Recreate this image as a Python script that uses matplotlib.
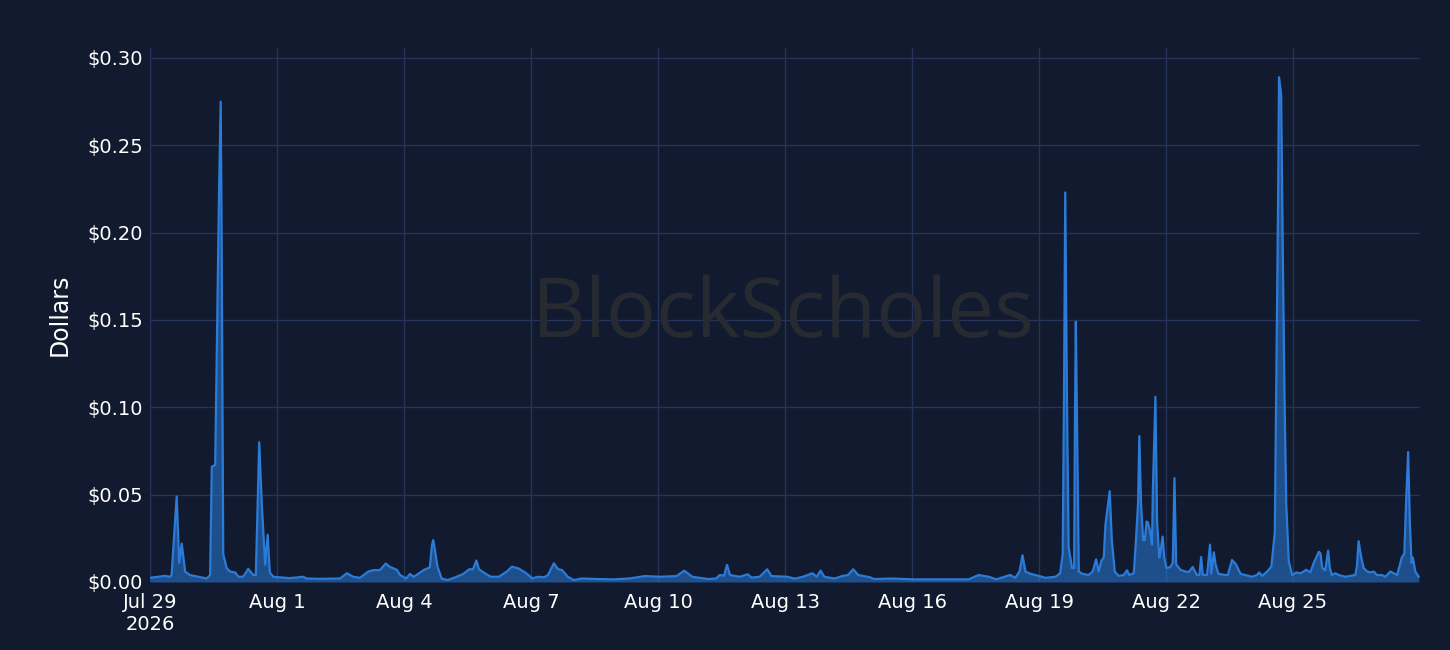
import datetime as dt
import matplotlib
matplotlib.use("Agg")
import matplotlib.pyplot as plt
import matplotlib.dates as mdates
from matplotlib.ticker import FuncFormatter, FixedLocator

# ---- data: time offsets in days from Jul 29 2026, price in dollars ----
days = [0.00, 0.20, 0.35, 0.47, 0.51, 0.63, 0.69, 0.75, 0.83, 0.94, 1.34, 1.42, 1.46, 1.54,
        1.59, 1.63, 1.67, 1.69, 1.73, 1.81, 1.89, 2.01, 2.09, 2.20, 2.32, 2.44, 2.50, 2.58,
        2.64, 2.72, 2.78, 2.83, 2.91, 3.30, 3.62, 3.70, 4.00, 4.49, 4.65, 4.80, 4.96, 5.16,
        5.28, 5.43, 5.57, 5.67, 5.83, 5.91, 6.05, 6.14, 6.23, 6.33, 6.47, 6.61, 6.66, 6.69,
        6.72, 6.79, 6.89, 7.03, 7.21, 7.40, 7.54, 7.63, 7.71, 7.77, 7.91, 8.05, 8.24, 8.43,
        8.55, 8.71, 8.89, 9.03, 9.17, 9.31, 9.40, 9.54, 9.64, 9.73, 9.87, 10.01, 10.20, 10.57,
        10.94, 11.32, 11.69, 12.06, 12.44, 12.62, 12.81, 13.18, 13.37, 13.46, 13.56, 13.63,
        13.70, 13.93, 14.12, 14.21, 14.40, 14.58, 14.68, 15.05, 15.24, 15.42, 15.65, 15.75,
        15.84, 15.93, 16.17, 16.35, 16.49, 16.61, 16.73, 17.01, 17.10, 17.52, 18.03, 18.78,
        19.34, 19.57, 19.81, 20.00, 20.05, 20.32, 20.44, 20.54, 20.61, 20.68, 20.80, 20.99,
        21.15, 21.39, 21.50, 21.56, 21.59, 21.62, 21.66, 21.70, 21.78, 21.83, 21.85, 21.87,
        21.91, 21.94, 22.02, 22.17, 22.27, 22.35, 22.41, 22.47, 22.53, 22.57, 22.67, 22.72,
        22.79, 22.88, 23.00, 23.08, 23.13, 23.24, 23.29, 23.34, 23.37, 23.41, 23.46, 23.50,
        23.54, 23.57, 23.63, 23.67, 23.69, 23.75, 23.79, 23.84, 23.88, 23.92, 23.96, 24.01,
        24.10, 24.16, 24.20, 24.24, 24.34, 24.46, 24.54, 24.63, 24.73, 24.79, 24.83, 24.87,
        24.97, 25.04, 25.07, 25.13, 25.17, 25.24, 25.40, 25.46, 25.56, 25.65, 25.76, 25.87,
        26.03, 26.15, 26.20, 26.27, 26.39, 26.49, 26.57, 26.62, 26.65, 26.67, 26.72, 26.76,
        26.80, 26.84, 26.90, 26.98, 27.08, 27.17, 27.25, 27.31, 27.41, 27.49, 27.61, 27.65,
        27.69, 27.76, 27.83, 27.87, 27.92, 28.00, 28.08, 28.24, 28.47, 28.51, 28.55, 28.61,
        28.67, 28.75, 28.83, 28.91, 28.98, 29.10, 29.18, 29.30, 29.38, 29.46, 29.57, 29.63,
        29.67, 29.72, 29.76, 29.80, 29.83, 29.89, 29.97]

values = [0.0024, 0.0030, 0.0035, 0.0030, 0.0040, 0.0490, 0.0110, 0.0220, 0.0060, 0.0040,
          0.0020, 0.0040, 0.0660, 0.0670, 0.1550, 0.2220, 0.2750, 0.2080, 0.0160, 0.0080,
          0.0060, 0.0055, 0.0030, 0.0030, 0.0075, 0.0040, 0.0040, 0.0800, 0.0450, 0.0100,
          0.0270, 0.0055, 0.0030, 0.0022, 0.0030, 0.0020, 0.0018, 0.0020, 0.0050, 0.0030,
          0.0024, 0.0060, 0.0068, 0.0068, 0.0106, 0.0086, 0.0070, 0.0040, 0.0020, 0.0046,
          0.0030, 0.0046, 0.0069, 0.0084, 0.0210, 0.0240, 0.0200, 0.0088, 0.0020, 0.0011,
          0.0027, 0.0046, 0.0073, 0.0073, 0.0123, 0.0073, 0.0050, 0.0030, 0.0030, 0.0060,
          0.0088, 0.0077, 0.0050, 0.0021, 0.0030, 0.0027, 0.0040, 0.0107, 0.0073, 0.0069,
          0.0030, 0.0011, 0.0020, 0.0017, 0.0015, 0.0020, 0.0034, 0.0030, 0.0034, 0.0065,
          0.0030, 0.0017, 0.0020, 0.0040, 0.0036, 0.0098, 0.0040, 0.0030, 0.0044, 0.0025,
          0.0030, 0.0073, 0.0034, 0.0030, 0.0019, 0.0030, 0.0050, 0.0030, 0.0065, 0.0030,
          0.0020, 0.0034, 0.0040, 0.0073, 0.0040, 0.0027, 0.0017, 0.0020, 0.0015, 0.0015,
          0.0015, 0.0040, 0.0030, 0.0015, 0.0020, 0.0040, 0.0024, 0.0060, 0.0153, 0.0060,
          0.0047, 0.0035, 0.0024, 0.0030, 0.0050, 0.0160, 0.1060, 0.2230, 0.1060, 0.0200,
          0.0080, 0.0080, 0.0960, 0.1490, 0.0650, 0.0060, 0.0047, 0.0040, 0.0060, 0.0130,
          0.0060, 0.0120, 0.0140, 0.0330, 0.0520, 0.0240, 0.0060, 0.0035, 0.0040, 0.0067,
          0.0040, 0.0050, 0.0240, 0.0450, 0.0835, 0.0450, 0.0240, 0.0240, 0.0346, 0.0343,
          0.0285, 0.0214, 0.0530, 0.1060, 0.0346, 0.0140, 0.0190, 0.0260, 0.0140, 0.0080,
          0.0086, 0.0110, 0.0595, 0.0102, 0.0070, 0.0060, 0.0057, 0.0086, 0.0040, 0.0040,
          0.0143, 0.0040, 0.0040, 0.0214, 0.0047, 0.0170, 0.0102, 0.0047, 0.0040, 0.0040,
          0.0126, 0.0102, 0.0047, 0.0040, 0.0030, 0.0040, 0.0055, 0.0035, 0.0060, 0.0090,
          0.0285, 0.1470, 0.2240, 0.2890, 0.2790, 0.1870, 0.1060, 0.0450, 0.0120, 0.0040,
          0.0055, 0.0050, 0.0060, 0.0070, 0.0055, 0.0110, 0.0173, 0.0163, 0.0080, 0.0067,
          0.0180, 0.0080, 0.0040, 0.0050, 0.0040, 0.0030, 0.0040, 0.0090, 0.0234, 0.0143,
          0.0080, 0.0060, 0.0055, 0.0060, 0.0040, 0.0040, 0.0030, 0.0060, 0.0050, 0.0040,
          0.0140, 0.0163, 0.0450, 0.0744, 0.0346, 0.0110, 0.0140, 0.0060, 0.0030]

start_date = dt.datetime(2026, 7, 29)
end_days = 30
tick_step_days = 3
y_ticks = [0.00, 0.05, 0.10, 0.15, 0.20, 0.25, 0.30]
y_label = "Dollars"
watermark = "BlockScholes"

# ---- style ----
BG = "#111a2e"
GRID = "#24345a"
LINE = "#2b7bd8"
FILL = "#2b7bd8"
TEXT = "#ffffff"

times = [start_date + dt.timedelta(days=d) for d in days]

fig = plt.figure(figsize=(14.5, 6.5), dpi=100, facecolor=BG)
ax = fig.add_axes([150 / 1450, 1 - 582 / 650, 1270 / 1450, 534 / 650])
ax.set_facecolor(BG)

ax.fill_between(times, values, 0, color=FILL, alpha=0.55, linewidth=0, zorder=2)
ax.plot(times, values, color=LINE, linewidth=1.6, zorder=3)

ax.set_xlim(start_date, start_date + dt.timedelta(days=end_days))
ax.set_ylim(0, 0.3057)

xt = [start_date + dt.timedelta(days=i) for i in range(0, end_days, tick_step_days)]
ax.xaxis.set_major_locator(FixedLocator(mdates.date2num(xt)))
labels = []
for i, t in enumerate(xt):
    s = f"{t.strftime('%b')} {t.day}"
    if i == 0:
        s += f"\n{t.year}"
    labels.append(s)
ax.set_xticklabels(labels)

ax.yaxis.set_major_locator(FixedLocator(y_ticks))
ax.yaxis.set_major_formatter(FuncFormatter(lambda v, p: f"${v:.2f}"))

ax.grid(True, color=GRID, linewidth=1.0, zorder=0)
ax.set_axisbelow(True)
for s in ax.spines.values():
    s.set_visible(False)
ax.tick_params(axis="both", length=0, colors=TEXT, labelsize=14)
ax.tick_params(axis="x", pad=8)
ax.tick_params(axis="y", pad=5)

ax.set_ylabel(y_label, color=TEXT, fontsize=17, labelpad=11)

fig.text(783 / 1450, 1 - 316 / 650, watermark, color="#272a31",
         fontsize=60, family="Open Sans", ha="center", va="center", zorder=1)

fig.savefig("out.png", dpi=100, facecolor=BG)
